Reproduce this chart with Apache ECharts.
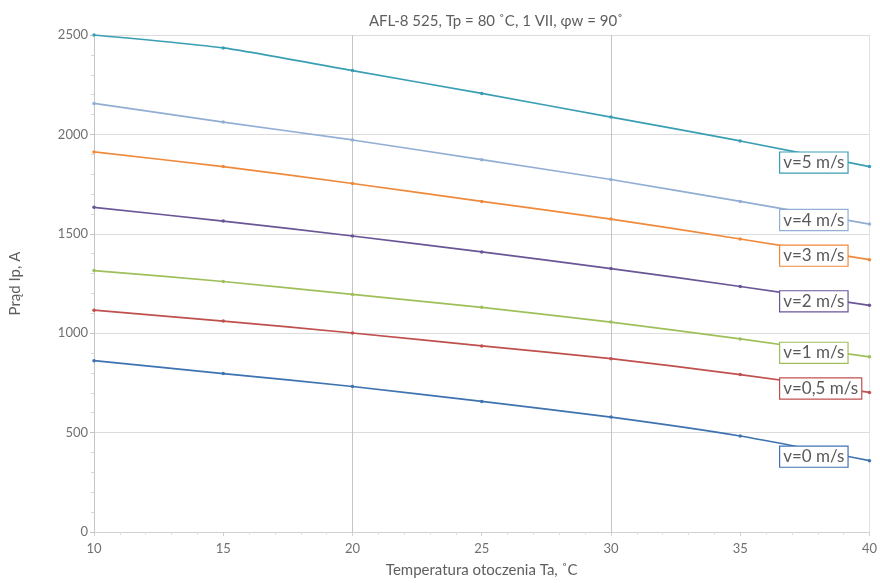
<!DOCTYPE html>
<html><head><meta charset="utf-8">
<script src="https://cdn.jsdelivr.net/npm/echarts@6/dist/echarts.min.js"></script>
<style>html,body{margin:0;padding:0;background:#fff}#c{width:880px;height:583px}</style>
</head><body><div id="c"></div>
<script>
var temps = [10, 15, 20, 25, 30, 35, 40];
var v5  = [2500, 2435, 2321, 2206, 2087, 1967, 1838];
var v4  = [2156, 2062, 1972, 1873, 1773, 1663, 1549];
var v3  = [1912, 1838, 1753, 1663, 1574, 1474, 1370];
var v2  = [1633, 1564, 1489, 1409, 1325, 1235, 1140];
var v1  = [1315, 1260, 1195, 1130, 1056, 971, 881];
var v05 = [1116, 1061, 1001, 936, 872, 792, 702];
var v0  = [862, 797, 732, 657, 578, 483, 359];
var names = ['v=5 m/s','v=4 m/s','v=3 m/s','v=2 m/s','v=1 m/s','v=0,5 m/s','v=0 m/s'];
var colors = ['#3a9fb4','#92aed4','#ef8a3c','#6a5596','#9fbf5a','#c0504d','#3f72b0'];
var seriesData = [v5, v4, v3, v2, v1, v05, v0];
var labelCss = 'Lato, sans-serif';

var series = seriesData.map(function(vals, i){
  return {
    name: names[i], type: 'line', smooth: 0.2,
    data: temps.map(function(t, j){
      var item = {value: [t, vals[j]]};
      if (j === temps.length - 1) {
        item.label = {
          show: true, position: 'right', distance: 0, offset: [-91, -4],
          formatter: names[i], color: '#5a5a5a', fontFamily: labelCss, fontSize: 17,
          backgroundColor: '#fff', borderColor: colors[i], borderWidth: 1.2,
          padding: [2, 3, 1, 3]
        };
      }
      return item;
    }),
    symbol: 'circle', symbolSize: 3.5,
    lineStyle: {color: colors[i], width: 1.7},
    itemStyle: {color: colors[i]},
    clip: false,
    z: 3
  };
});

var chart = echarts.init(document.getElementById('c'), null, {renderer: 'canvas'});
chart.setOption({
  animation: false,
  title: {text: 'AFL-8 525, Tp = 80 ˚C, 1 VII, φw = 90˚', left: 491, textAlign: 'center', top: 9,
    textStyle: {fontFamily: labelCss, fontSize: 15, fontWeight: 'normal', color: '#5e5e5e'}},
  grid: {left: 93, right: 6, top: 35, bottom: 46, containLabel: false},
  xAxis: [{
    type: 'value', min: 10, max: 40, interval: 5,
    name: 'Temperatura otoczenia Ta, ˚C', nameLocation: 'middle', nameGap: 31,
    nameTextStyle: {fontFamily: labelCss, fontSize: 15, color: '#5e5e5e'},
    axisLine: {show: true, lineStyle: {color: '#d0d0d0'}},
    axisTick: {show: true, length: 4, lineStyle: {color: '#d0d0d0'}},
    minorTick: {show: true, splitNumber: 5, length: 3, lineStyle: {color: '#e0e0e0'}},
    axisLabel: {fontFamily: labelCss, fontSize: 13, color: '#707070', margin: 10},
    splitLine: {show: false}
  }, {
    type: 'value', min: 10, max: 40, interval: 10, position: 'bottom',
    axisLine: {show: false}, axisTick: {show: false}, axisLabel: {show: false},
    splitLine: {show: true, lineStyle: {color: '#c4c4c4', width: 1}}
  }],
  yAxis: [{
    type: 'value', min: 0, max: 2500, interval: 500,
    name: 'Prąd Ip, A', nameLocation: 'middle', nameGap: 71, nameRotate: 90,
    nameTextStyle: {fontFamily: labelCss, fontSize: 15, color: '#5e5e5e'},
    axisLine: {show: true, lineStyle: {color: '#c4c4c4'}},
    axisTick: {show: true, length: 4, lineStyle: {color: '#c4c4c4'}},
    minorTick: {show: true, splitNumber: 5, length: 3, lineStyle: {color: '#d8d8d8'}},
    axisLabel: {fontFamily: labelCss, fontSize: 13, color: '#707070', margin: 6,
      formatter: function(v){ return String(v); }},
    splitLine: {show: true, lineStyle: {color: '#dcdcdc', width: 1.2}}
  }, {
    type: 'value', min: 0, max: 2500, interval: 500, position: 'right',
    axisLine: {show: true, lineStyle: {color: '#e2e2e2'}},
    axisTick: {show: false}, axisLabel: {show: false}, splitLine: {show: false}
  }],
  series: series
});
</script>
</body></html>
